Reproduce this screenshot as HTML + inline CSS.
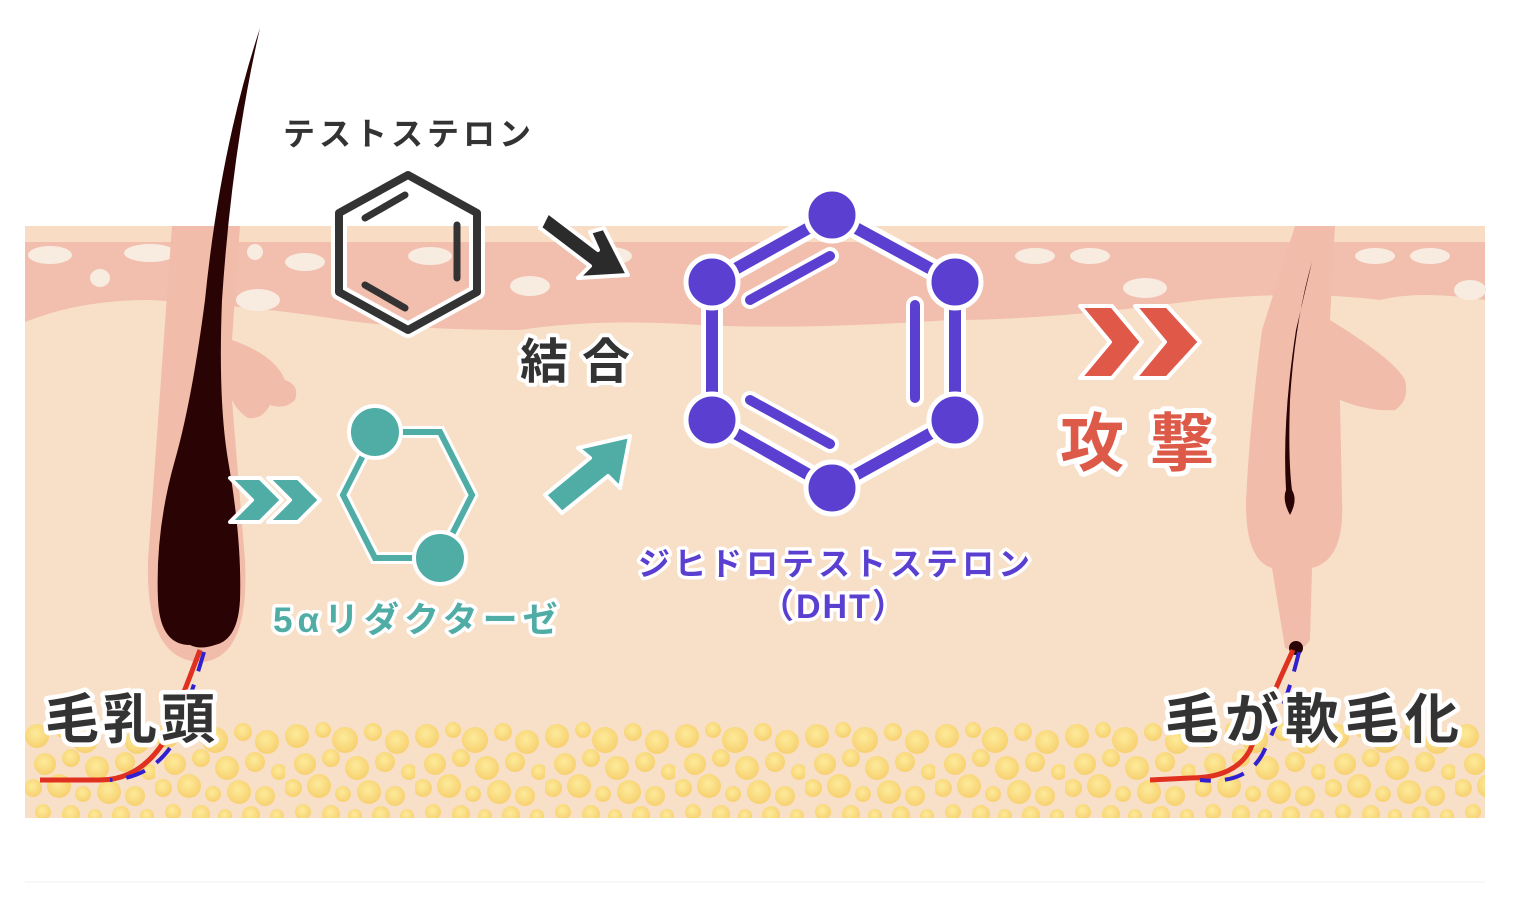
<!DOCTYPE html>
<html><head><meta charset="utf-8"><style>
html,body{margin:0;padding:0;background:#fff;}
svg{display:block}
text{font-family:"Liberation Sans","Noto Sans CJK JP",sans-serif;font-weight:bold;paint-order:stroke;stroke:#fff;stroke-linejoin:round}
</style></head><body>
<svg width="1526" height="902" viewBox="0 0 1526 902" xmlns="http://www.w3.org/2000/svg">
<defs>
<radialGradient id="bg" cx="0.45" cy="0.4" r="0.6"><stop offset="0" stop-color="#fdeb9a"/><stop offset="1" stop-color="#f7d070"/></radialGradient>
<pattern id="fat" x="25" y="722" width="130" height="100" patternUnits="userSpaceOnUse">
<g fill="url(#bg)">
<circle cx="12" cy="14" r="12"/><circle cx="38" cy="8" r="8"/><circle cx="60" cy="18" r="13"/><circle cx="88" cy="10" r="9"/><circle cx="112" cy="20" r="12"/>
<circle cx="20" cy="42" r="11"/><circle cx="46" cy="36" r="9"/><circle cx="72" cy="46" r="12"/><circle cx="100" cy="40" r="10"/><circle cx="124" cy="50" r="8"/>
<circle cx="8" cy="66" r="9"/><circle cx="34" cy="64" r="12"/><circle cx="58" cy="72" r="8"/><circle cx="84" cy="70" r="12"/><circle cx="110" cy="74" r="10"/>
<circle cx="18" cy="90" r="8"/><circle cx="46" cy="92" r="9"/><circle cx="70" cy="94" r="7"/><circle cx="96" cy="93" r="9"/><circle cx="122" cy="94" r="7"/>
</g></pattern>
</defs>
<rect x="25" y="226" width="1460" height="592" fill="#f8e0c8"/>
<rect x="25" y="226" width="1460" height="16" fill="#f9dcc4"/>
<path d="M25 242 H1485 V300 Q1420 290 1380 300 Q1300 290 1200 300 Q1050 320 950 320 Q800 330 700 325 Q600 318 520 330 Q400 330 330 318 Q250 306 150 300 Q80 300 25 322 Z" fill="#f2bead"/>
<g fill="#f8ebe0">
<ellipse cx="50" cy="255" rx="22" ry="9"/><ellipse cx="150" cy="253" rx="26" ry="9"/><ellipse cx="100" cy="278" rx="10" ry="9"/><ellipse cx="255" cy="252" rx="8" ry="8"/><ellipse cx="258" cy="300" rx="22" ry="11"/>
<ellipse cx="305" cy="262" rx="20" ry="9"/><ellipse cx="530" cy="286" rx="20" ry="10"/><ellipse cx="610" cy="256" rx="22" ry="9"/><ellipse cx="430" cy="256" rx="22" ry="9"/>
<ellipse cx="1035" cy="256" rx="20" ry="8"/><ellipse cx="1090" cy="256" rx="20" ry="8"/><ellipse cx="1145" cy="288" rx="22" ry="10"/>
<ellipse cx="1375" cy="256" rx="20" ry="8"/><ellipse cx="1430" cy="256" rx="20" ry="8"/><ellipse cx="1470" cy="290" rx="16" ry="10"/>
</g>
<rect x="25" y="722" width="1460" height="96" fill="url(#fat)"/>
<!-- left follicle -->
<path d="M172 226 H240 L232 340 Q275 355 285 380 Q300 385 295 400 Q285 410 270 405 Q262 420 248 418 Q238 412 232 400 L245 560 Q250 660 200 662 Q145 660 148 560 Z" fill="#f2bcaa"/>
<path d="M260 28 Q232 150 222 300 Q218 400 228 460 Q242 540 240 600 Q238 640 215 645 Q200 650 190 645 Q160 645 158 600 Q155 530 175 460 Q192 400 205 300 Q220 150 260 28 Z" fill="#2a0404"/>
<path d="M200 650 Q185 690 165 740 Q140 780 100 780 L40 780" stroke="#e03020" stroke-width="5" fill="none"/>
<path d="M204 652 Q190 700 172 745 Q150 778 110 780" stroke="#3020d0" stroke-width="4" fill="none" stroke-dasharray="20 14"/>
<!-- right follicle -->
<path d="M1295 226 H1335 L1330 320 Q1395 360 1405 380 Q1410 400 1395 410 Q1370 412 1340 400 L1342 500 Q1345 560 1312 568 L1310 640 Q1300 655 1285 648 L1272 568 Q1245 560 1246 500 Q1250 420 1262 330 Z" fill="#f2bcaa"/>
<path d="M1312 262 Q1295 320 1290 400 Q1288 460 1292 490 Q1298 500 1290 515 Q1282 500 1286 490 Q1282 420 1296 330 Z" fill="#2a0404"/>
<circle cx="1296" cy="648" r="7" fill="#2a0404"/>
<path d="M1293 650 Q1270 700 1250 750 Q1235 778 1190 778 L1150 780" stroke="#e03020" stroke-width="5" fill="none"/>
<path d="M1299 652 Q1285 710 1262 755 Q1245 785 1200 780" stroke="#3020d0" stroke-width="4" fill="none" stroke-dasharray="20 14"/>
<!-- testosterone -->
<g fill="none" stroke-linecap="round" stroke-linejoin="round">
<polygon points="408,175 477,213 477,292 408,330 339,292 339,213" stroke="#fff" stroke-width="16"/>
<polygon points="408,175 477,213 477,292 408,330 339,292 339,213" stroke="#333" stroke-width="8"/>
<line x1="365" y1="218" x2="405" y2="195" stroke="#333" stroke-width="7"/>
<line x1="457" y1="225" x2="457" y2="278" stroke="#333" stroke-width="7"/>
<line x1="365" y1="285" x2="405" y2="308" stroke="#333" stroke-width="7"/>
</g>
<path d="M548 212 L598 250 L590 232 L604 228 L628 275 L578 278 L590 266 L540 228 Z" fill="#2b2b2b" stroke="#fff" stroke-width="4" stroke-linejoin="round"/>
<!-- DHT -->
<g fill="none" stroke-linecap="round">
<polygon points="832,215 955,282 955,420 832,488 712,420 712,282" stroke="#fff" stroke-width="22" stroke-linejoin="round"/>
<polygon points="832,215 955,282 955,420 832,488 712,420 712,282" stroke="#5a3fd0" stroke-width="12" stroke-linejoin="round"/>
<line x1="750" y1="300" x2="830" y2="256" stroke="#fff" stroke-width="18"/><line x1="750" y1="300" x2="830" y2="256" stroke="#5a3fd0" stroke-width="10"/>
<line x1="915" y1="305" x2="915" y2="398" stroke="#fff" stroke-width="18"/><line x1="915" y1="305" x2="915" y2="398" stroke="#5a3fd0" stroke-width="10"/>
<line x1="750" y1="400" x2="830" y2="444" stroke="#fff" stroke-width="18"/><line x1="750" y1="400" x2="830" y2="444" stroke="#5a3fd0" stroke-width="10"/>
</g>
<g fill="#5a3fd0" stroke="#fff" stroke-width="5">
<circle cx="832" cy="215" r="26"/><circle cx="955" cy="282" r="26"/><circle cx="955" cy="420" r="26"/><circle cx="832" cy="488" r="26"/><circle cx="712" cy="420" r="26"/><circle cx="712" cy="282" r="26"/>
</g>
<!-- teal -->
<polygon points="375,432 440,432 472,495 440,558 375,558 343,495" fill="none" stroke="#fff" stroke-width="12"/>
<polygon points="375,432 440,432 472,495 440,558 375,558 343,495" fill="none" stroke="#4fada5" stroke-width="6"/>
<circle cx="375" cy="432" r="26" fill="#4fada5" stroke="#fff" stroke-width="4"/>
<circle cx="440" cy="558" r="26" fill="#4fada5" stroke="#fff" stroke-width="4"/>
<g fill="#4fada5" stroke="#fff" stroke-width="4" stroke-linejoin="round">
<path d="M230 478 H260 L282 500 L260 522 H230 L252 500 Z"/>
<path d="M268 478 H298 L320 500 L298 522 H268 L290 500 Z"/>
<path d="M545 495 L590 458 L578 448 L630 436 L620 488 L608 476 L562 513 Z"/>
</g>
<g fill="#e05848" stroke="#fff" stroke-width="4" stroke-linejoin="round">
<path d="M1080 306 H1112 L1142 342 L1112 378 H1080 L1110 342 Z"/>
<path d="M1135 306 H1167 L1200 342 L1167 378 H1135 L1165 342 Z"/>
</g>
<!-- texts -->
<text x="283" y="145" font-size="32" fill="#333" stroke-width="0" letter-spacing="4">テストステロン</text>
<text x="520" y="378" font-size="48" fill="#333" stroke-width="8" letter-spacing="14">結合</text>
<text x="273" y="632" font-size="35" fill="#4fada5" stroke-width="7" letter-spacing="5">5αリダクターゼ</text>
<text x="638" y="575" font-size="32" fill="#5a3fd0" stroke-width="7" letter-spacing="4">ジヒドロテストステロン</text>
<text x="760" y="618" font-size="34" fill="#5a3fd0" stroke-width="7" letter-spacing="2">（DHT）</text>
<text x="1060" y="466" font-size="64" fill="#dd5a48" stroke-width="10" letter-spacing="26">攻撃</text>
<text x="45" y="738" font-size="54" fill="#333" stroke-width="9" letter-spacing="4">毛乳頭</text>
<text x="1165" y="738" font-size="54" fill="#333" stroke-width="9" letter-spacing="6">毛が軟毛化</text>
<line x1="25" y1="882" x2="1485" y2="882" stroke="#f2f2f2" stroke-width="1"/>
</svg>
</body></html>
